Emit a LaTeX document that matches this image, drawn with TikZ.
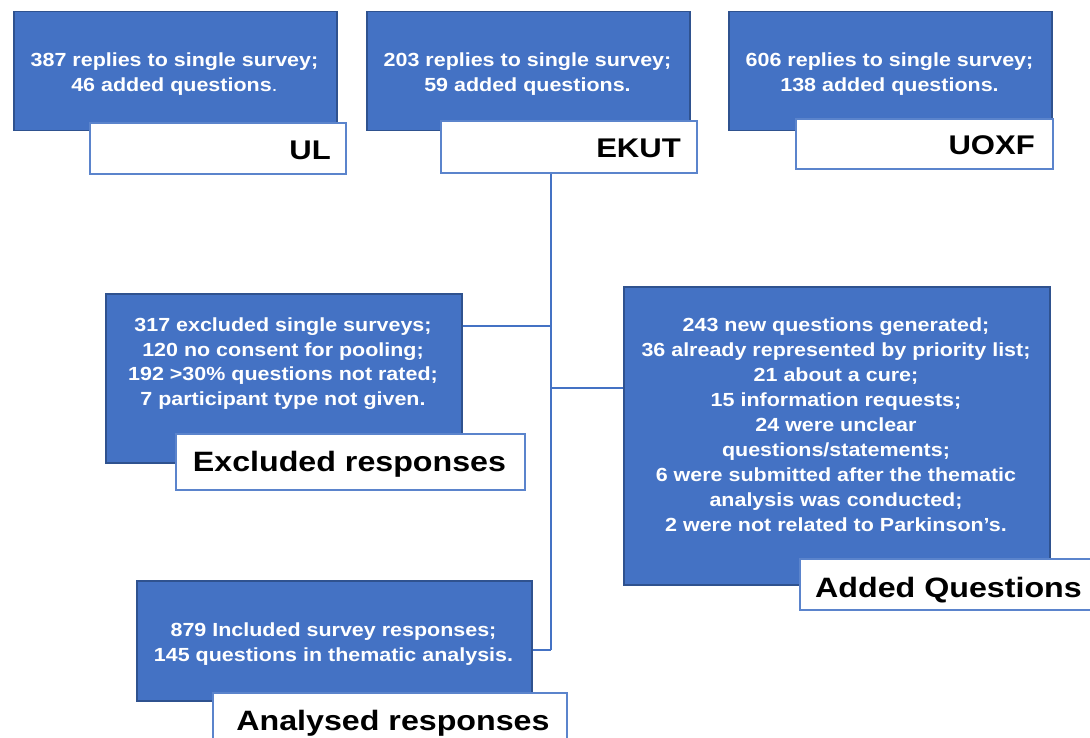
\documentclass[tikz,border=0pt]{standalone}
\usepackage{fontspec}
\setmainfont{Liberation Sans}
\newfontfamily\widebody[FakeStretch=1.13]{Liberation Sans}
\newfontfamily\widelbl[FakeStretch=1.15]{Liberation Sans}
\definecolor{boxblue}{HTML}{4472C4}
\definecolor{boxedge}{HTML}{2F528F}
\definecolor{lbledge}{HTML}{5B84CC}
\begin{document}
\begin{tikzpicture}[x=1pt,y=-1pt,
 bluebox/.style={draw=boxedge, line width=1.5pt, fill=boxblue, anchor=north west, inner sep=0pt},
 lblbox/.style={draw=lbledge, line width=2pt, fill=white, anchor=north west, inner sep=0pt},
 bodytext/.style={text=white, font=\widebody\bfseries\fontsize{19}{25}\selectfont, align=center, anchor=north, inner sep=0pt},
 lbltext/.style={text=black, font=\widelbl\bfseries\fontsize{27}{34}\selectfont, anchor=base east, inner sep=0pt},
 biglbl/.style={lbltext, font=\widelbl\bfseries\fontsize{28}{34}\selectfont, anchor=base},
 conn/.style={draw=boxblue, line width=1.5pt}]
\useasboundingbox (0,0) rectangle (1090,738);
% UL
\node[bluebox, minimum width=323pt, minimum height=119pt] (ulbox) at (13,11) {};
\node[lblbox, minimum width=256pt, minimum height=51pt] (ullbl) at (89,122) {};
\node[bodytext] (ultext) at (174.5,53) {387 replies to single survey;\\46 added questions{\mdseries .}};
\node[lbltext] (ulname) at (331,160) {UL};
% EKUT
\node[bluebox, minimum width=323pt, minimum height=119pt] (ekbox) at (366,11) {};
\node[lblbox, minimum width=256pt, minimum height=52pt] (eklbl) at (440,120) {};
\node[bodytext] (ektext) at (527.5,53) {203 replies to single survey;\\59 added questions.};
\node[lbltext] (ekname) at (681,158) {EKUT};
% UOXF
\node[bluebox, minimum width=323pt, minimum height=119pt] (oxbox) at (728,11) {};
\node[lblbox, minimum width=257pt, minimum height=50pt] (oxlbl) at (795,118) {};
\node[bodytext] (oxtext) at (889.5,53) {606 replies to single survey;\\138 added questions.};
\node[lbltext] (oxname) at (1035,155) {UOXF};
% Excluded
\node[bluebox, minimum width=356pt, minimum height=169pt] (excbox) at (105,293) {};
\node[lblbox, minimum width=349pt, minimum height=56pt] (exclbl) at (175,433) {};
\node[bodytext, font=\widebody\bfseries\fontsize{19}{24.4}\selectfont] (exctext) at (283,318) {317 excluded single surveys;\\120 no consent for pooling;\\192 >30\% questions not rated;\\7 participant type not given.};
\node[biglbl] (excname) at (349.5,471) {Excluded responses};
% Added
\node[bluebox, minimum width=426pt, minimum height=298pt] (addbox) at (623,286) {};
\node[lblbox, minimum width=300pt, minimum height=51pt] (addlbl) at (799,558) {};
\node[bodytext] (addtext) at (836,318) {243 new questions generated;\\36 already represented by priority list;\\21 about a cure;\\15 information requests;\\24 were unclear\\questions/statements;\\6 were submitted after the thematic\\analysis was conducted;\\2 were not related to Parkinson’s.};
\node[biglbl] (addname) at (948.5,597) {Added Questions};
% Analysed
\node[bluebox, minimum width=395pt, minimum height=120pt] (anabox) at (136,580) {};
\node[lblbox, minimum width=354pt, minimum height=60pt] (analbl) at (212,692) {};
\node[bodytext] (anatext) at (333.5,623) {879 Included survey responses;\\145 questions in thematic analysis.};
\node[biglbl] (ananame) at (393,730) {Analysed responses};
% connectors
\coordinate (trunkx) at (551,0);
\coordinate (jexc) at (551,326);
\coordinate (jadd) at (551,388);
\coordinate (jana) at (551,650);
\draw[conn] (eklbl.south -| trunkx) -- (jana);
\draw[conn] (jexc -| excbox.east) -- (jexc);
\draw[conn] (jadd) -- (jadd -| addbox.west);
\draw[conn] (jana -| anabox.east) -- (jana);
\end{tikzpicture}
\end{document}
